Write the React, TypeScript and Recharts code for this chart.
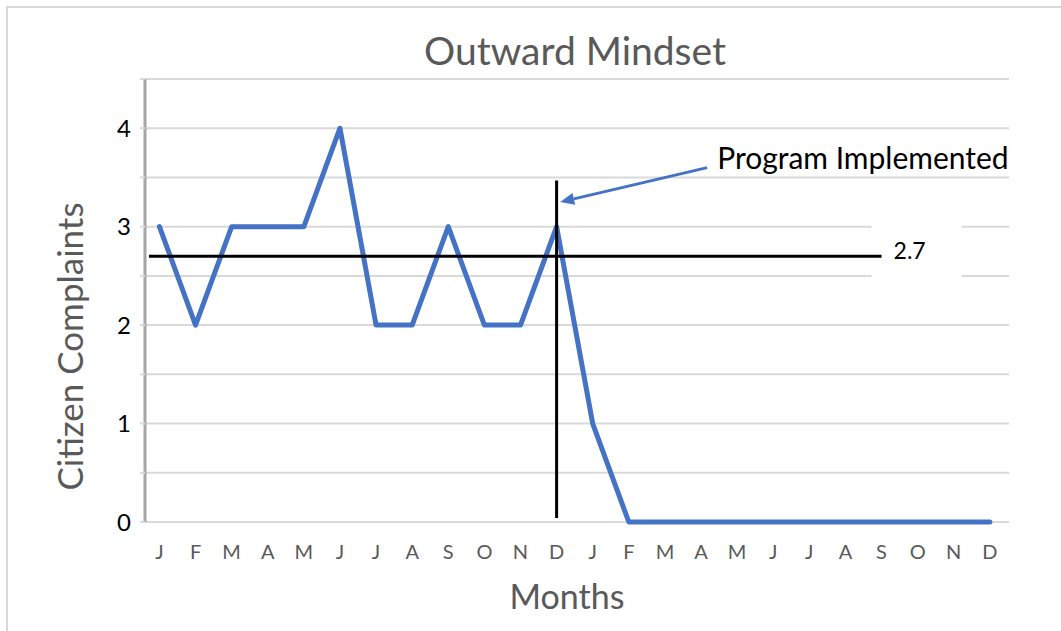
import React from 'react'
import { LineChart, Line, XAxis, YAxis, CartesianGrid, ReferenceLine, Label } from 'recharts'

const months = ['J', 'F', 'M', 'A', 'M', 'J', 'J', 'A', 'S', 'O', 'N', 'D']
const complaints = [3, 2, 3, 3, 3, 4, 2, 2, 3, 2, 2, 3, 1, 0, 0, 0, 0, 0, 0, 0, 0, 0, 0, 0]
const yTicks = [0, 0.5, 1, 1.5, 2, 2.5, 3, 3.5, 4, 4.5]
const baselineAverage = 2.7
// positions on the month index axis (0 = first J)
const implementedAt = 11
const averageFrom = -0.29
const averageTo = 20
const calloutFrom = 15.17
const calloutText = 'Program Implemented'

const data = complaints.map((value, i) => ({ idx: i, complaints: value }))
const xTicks = data.map(d => d.idx)

const FONT = 'Lato, "Noto Sans", sans-serif'
const BLUE = '#4472C4'
const GREY_TEXT = '#595959'

// average line with a white box behind its value label
const AverageShape = (props: any) => {
  const { x1, x2, y1 } = props
  return (
    <g>
      <rect x={x2 - 10} y={y1 - 32} width={90} height={56} fill="#fff" />
      <line x1={x1} y1={y1} x2={x2} y2={y1} stroke="#000" strokeWidth={3} />
      <text x={x2 + 12} y={y1 + 3} fontSize={23} fontFamily={FONT} fill="#000">
        {baselineAverage}
      </text>
    </g>
  )
}

// callout arrow pointing at the implementation line
const CalloutShape = (props: any) => {
  const { x1, y1, x2, y2 } = props
  const ang = Math.atan2(y2 - y1, x2 - x1)
  const len = 14
  const half = 6
  const bx = x2 - len * Math.cos(ang)
  const by = y2 - len * Math.sin(ang)
  const px = -Math.sin(ang) * half
  const py = Math.cos(ang) * half
  return (
    <g>
      <line x1={x1} y1={y1} x2={bx} y2={by} stroke={BLUE} strokeWidth={3} />
      <polygon points={`${x2},${y2} ${bx + px},${by + py} ${bx - px},${by - py}`} fill={BLUE} />
      <text x={x1 + 10} y={y1 + 1} fontSize={30} fontFamily={FONT} fill="#000">
        {calloutText}
      </text>
    </g>
  )
}

export default function App() {
  return (
    <div style={{ position: 'absolute', left: 0, top: 0, width: 1061, height: 631, background: '#fff', overflow: 'hidden' }}>
      <div
        style={{
          position: 'absolute',
          left: 6,
          top: 6,
          width: 1080,
          height: 650,
          border: '2px solid #d9d9d9',
        }}
      />
      <div
        style={{
          position: 'absolute',
          left: 0,
          top: 27,
          width: 1150,
          textAlign: 'center',
          fontFamily: FONT,
          fontSize: 39,
          color: GREY_TEXT,
          lineHeight: '47px',
        }}
      >
        Outward Mindset
      </div>
      <div style={{ position: 'absolute', left: 0, top: 0 }}>
        <LineChart width={1061} height={631} data={data} margin={{ top: 79, right: 52, bottom: 0, left: 0 }}>
          <CartesianGrid vertical={false} stroke="#d9d9d9" strokeWidth={2} />
          <XAxis
            dataKey="idx"
            type="number"
            domain={[-0.4, 23.53]}
            ticks={xTicks}
            interval={0}
            height={109}
            axisLine={false}
            tickLine={false}
            tickSize={0}
            tickMargin={23}
            tick={{ fontSize: 20, fill: GREY_TEXT, fontFamily: FONT }}
            tickFormatter={(i: number) => months[i % 12]}
          >
            <Label
              value="Months"
              position="insideBottom"
              offset={22}
              dx={-10}
              style={{ fontSize: 34, fill: GREY_TEXT, fontFamily: FONT }}
            />
          </XAxis>
          <YAxis
            width={145}
            domain={[0, 4.5]}
            ticks={yTicks}
            interval={0}
            axisLine={{ stroke: '#a6a6a6', strokeWidth: 3 }}
            tickLine={{ stroke: '#d9d9d9', strokeWidth: 2 }}
            tickSize={5}
            tickMargin={9}
            tick={{ fontSize: 24, fill: '#000', fontFamily: FONT }}
            tickFormatter={(v: number) => (Number.isInteger(v) ? String(v) : '')}
          >
            <Label
              content={(p: any) => {
                const vb = p.viewBox
                const cx = vb.x + 69
                const cy = vb.y + vb.height / 2 + 46
                return (
                  <text
                    x={cx}
                    y={cy}
                    transform={`rotate(-90 ${cx} ${cy})`}
                    textAnchor="middle"
                    dominantBaseline="central"
                    fontSize={35}
                    fontFamily={FONT}
                    fill={GREY_TEXT}
                  >
                    Citizen Complaints
                  </text>
                )
              }}
            />
          </YAxis>
          <Line
            type="linear"
            dataKey="complaints"
            stroke={BLUE}
            strokeWidth={5}
            strokeLinecap="round"
            strokeLinejoin="round"
            dot={false}
            activeDot={false}
            isAnimationActive={false}
          />
          <ReferenceLine
            segment={[
              { x: averageFrom, y: baselineAverage },
              { x: averageTo, y: baselineAverage },
            ]}
            shape={AverageShape}
          />
          <ReferenceLine
            segment={[
              { x: implementedAt, y: 0.04 },
              { x: implementedAt, y: 3.47 },
            ]}
            stroke="#000"
            strokeWidth={3}
          />
          <ReferenceLine
            segment={[
              { x: calloutFrom, y: 3.6 },
              { x: implementedAt + 0.1, y: 3.25 },
            ]}
            shape={CalloutShape}
          />
        </LineChart>
      </div>
    </div>
  )
}
